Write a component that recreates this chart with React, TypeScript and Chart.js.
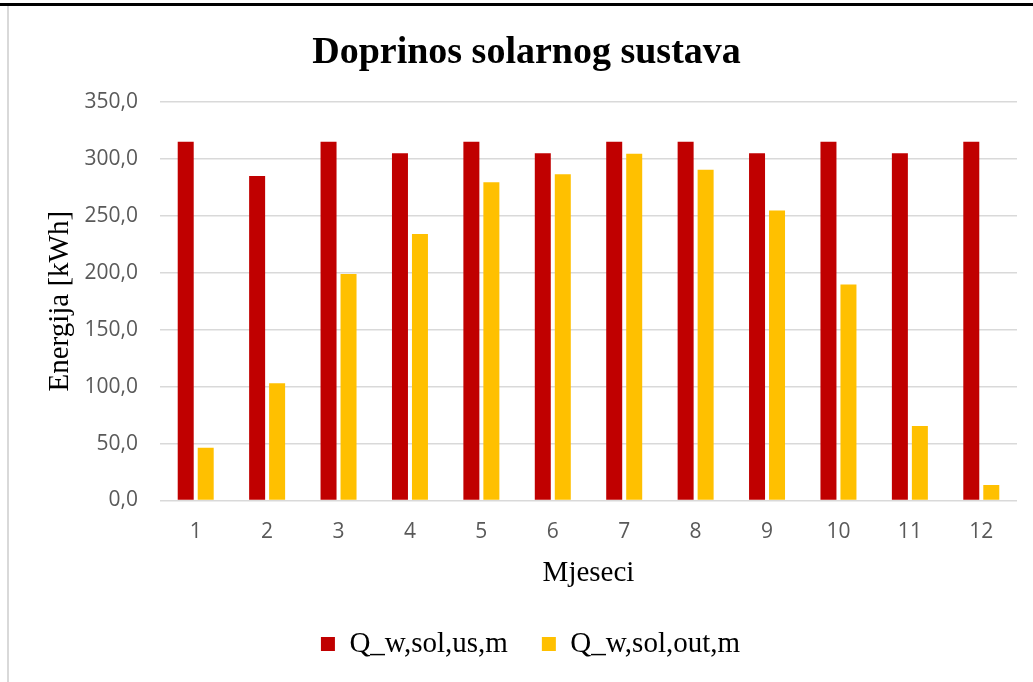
import React, { useEffect, useRef } from 'react';
import { Chart, registerables } from 'chart.js';

Chart.register(...registerables);

const months = ['1', '2', '3', '4', '5', '6', '7', '8', '9', '10', '11', '12'];
const seriesNames = ['Q_w,sol,us,m', 'Q_w,sol,out,m'];
const usValues = [315, 285, 315, 305, 315, 305, 315, 315, 305, 315, 305, 315];
const outValues = [46.3, 103, 199, 234, 279.5, 286.5, 304.6, 290.5, 254.6, 189.8, 65.4, 13.6];
const yMin = 0;
const yMax = 350;
const yStep = 50;
const titleText = 'Doprinos solarnog sustava';
const yTitleText = 'Energija [kWh]';
const xTitleText = 'Mjeseci';

const SERIF = '"Liberation Serif", "Times New Roman", serif';
const SANS = '"Open Sans", "Noto Sans", sans-serif';

const legendShift = {
  id: 'legendShift',
  afterLayout(chart: any) {
    if (chart.legend) {
      chart.legend.left += 4;
      chart.legend.right += 4;
    }
  },
};

export default function App() {
  const ref = useRef<HTMLCanvasElement>(null);

  useEffect(() => {
    if (!ref.current) return;
    const chart = new Chart(ref.current, {
      type: 'bar',
      data: {
        labels: months,
        datasets: [
          {
            label: seriesNames[0],
            data: usValues,
            backgroundColor: '#C00000',
            borderWidth: 0,
            barPercentage: 0.8,
            categoryPercentage: 0.56,
          },
          {
            label: seriesNames[1],
            data: outValues,
            backgroundColor: '#FFC000',
            borderWidth: 0,
            barPercentage: 0.8,
            categoryPercentage: 0.56,
          },
        ],
      },
      plugins: [legendShift],
      options: {
        responsive: false,
        animation: false,
        layout: { padding: { left: 36, right: 16, top: 0, bottom: 13.5 } },
        plugins: {
          title: {
            display: true,
            text: titleText,
            color: '#000',
            font: { family: SERIF, size: 38, weight: 'bold', lineHeight: 1.2 },
            padding: { top: 30.8, bottom: 25.6 },
          },
          legend: {
            display: true,
            position: 'bottom',
            labels: {
              boxWidth: 14,
              boxHeight: 14,
              padding: 34,
              color: '#000',
              font: { family: SERIF, size: 29, lineHeight: 1.2 },
            },
          },
          tooltip: { enabled: false },
        },
        scales: {
          x: {
            grid: { display: false, drawTicks: false },
            border: { display: false },
            ticks: {
              color: '#595959',
              font: { family: SANS, size: 21, lineHeight: 1.2 },
              padding: 18.5,
            },
            title: {
              display: true,
              text: xTitleText,
              color: '#000',
              font: { family: SERIF, size: 29, lineHeight: 1.2 },
              padding: { top: 0, bottom: 4.5 },
            },
            afterFit: (s: any) => {
              s.height = 95;
            },
          },
          y: {
            min: yMin,
            max: yMax,
            grid: { color: '#d9d9d9', lineWidth: 1.5, drawTicks: false },
            border: { display: false },
            ticks: {
              stepSize: yStep,
              color: '#595959',
              font: { family: SANS, size: 21, lineHeight: 1.2 },
              padding: 22,
              callback: (v: any) => Number(v).toFixed(1).replace('.', ','),
            },
            title: {
              display: true,
              text: yTitleText,
              color: '#000',
              font: { family: SERIF, size: 29, lineHeight: 1.2 },
              padding: { top: 6.6, bottom: 0 },
            },
            afterFit: (s: any) => {
              s.width = 124;
            },
          },
        },
      },
    });
    return () => chart.destroy();
  }, []);

  return (
    <div style={{ position: 'fixed', left: 0, top: 0, width: 1033, height: 682, background: '#fff', overflow: 'hidden' }}>
      <canvas ref={ref} width={1033} height={682} style={{ position: 'absolute', left: 0, top: 0, width: 1033, height: 682 }} />
      <div style={{ position: 'absolute', left: 0, top: 3, width: 1033, height: 3, background: '#000' }} />
      <div style={{ position: 'absolute', left: 7, top: 6, width: 2, height: 676, background: '#d9d9d9' }} />
    </div>
  );
}
